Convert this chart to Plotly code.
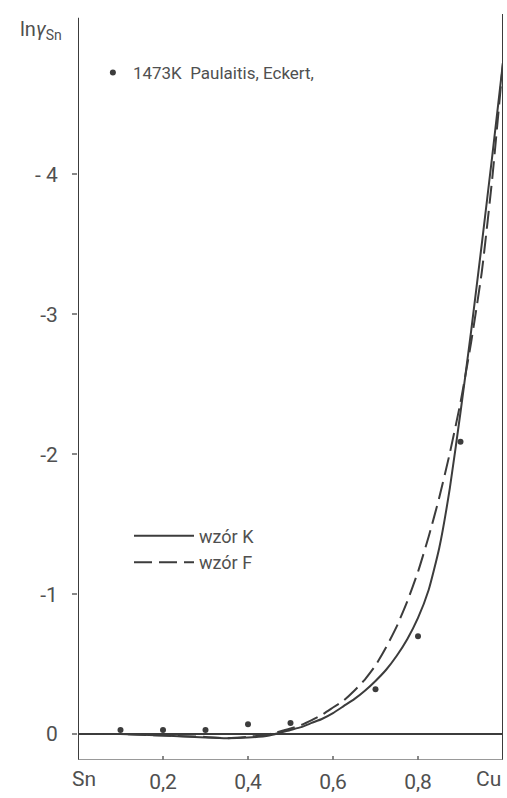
import plotly.graph_objects as go

# ---- data ----
x_K = [0.0, 0.1, 0.2, 0.3, 0.35, 0.4, 0.45, 0.5, 0.525, 0.55, 0.575, 0.6, 0.625, 0.65, 0.675, 0.7,
       0.725, 0.75, 0.775, 0.8, 0.825, 0.85, 0.875, 0.9, 0.925, 0.95, 0.975, 1.0]
y_K = [0.0, 0.0, 0.01, 0.025, 0.03, 0.025, 0.01, -0.03, -0.05, -0.08, -0.11, -0.15, -0.2, -0.25, -0.31, -0.38,
       -0.46, -0.56, -0.68, -0.83, -1.03, -1.33, -1.76, -2.3, -2.88, -3.5, -4.14, -4.8]

x_F = [0.0, 0.1, 0.2, 0.3, 0.35, 0.4, 0.45, 0.5, 0.525, 0.55, 0.575, 0.6, 0.625, 0.65, 0.675, 0.7,
       0.725, 0.75, 0.775, 0.8, 0.825, 0.85, 0.875, 0.9, 0.925, 0.95, 0.975, 1.0]
y_F = [0.0, 0.0, 0.01, 0.02, 0.03, 0.02, 0.0, -0.04, -0.065, -0.1, -0.14, -0.19, -0.24, -0.31, -0.39, -0.49,
       -0.62, -0.77, -0.95, -1.16, -1.41, -1.69, -2.01, -2.37, -2.8, -3.3, -3.98, -4.8]

x_pts = [0.1, 0.2, 0.3, 0.4, 0.5, 0.7, 0.8, 0.9]
y_pts = [-0.03, -0.03, -0.03, -0.07, -0.08, -0.32, -0.70, -2.09]

x_tickvals = [0.2, 0.4, 0.6, 0.8]
x_ticktext = ["0,2", "0,4", "0,6", "0,8"]
y_tickvals = [-4, -3, -2, -1, 0]
y_ticktext = ["- 4", "-3", "-2", "-1", "0"]

INK = "#3c3c3c"
TXT = "#505050"
FONT = "Roboto"

fig = go.Figure()
fig.add_trace(go.Scatter(x=x_K, y=y_K, mode="lines", name="wzór K",
                         line=dict(color=INK, width=2, shape="spline", smoothing=0.5),
                         legend="legend"))
fig.add_trace(go.Scatter(x=x_F, y=y_F, mode="lines", name="wzór F",
                         line=dict(color=INK, width=2, dash="18px,7px", shape="spline", smoothing=0.5),
                         legend="legend"))
fig.add_trace(go.Scatter(x=x_pts, y=y_pts, mode="markers", name="1473K  Paulaitis, Eckert,",
                         marker=dict(color=INK, size=6), legend="legend2"))

y_bottom = 0.185
y_top = -5.146

fig.update_layout(
    width=507, height=798,
    margin=dict(l=78, r=4, t=14, b=35),
    paper_bgcolor="white", plot_bgcolor="white",
    font=dict(family=FONT, color=TXT, size=19),
    xaxis=dict(range=[0, 1], tickvals=x_tickvals, ticktext=x_ticktext,
               showgrid=False, zeroline=False, showline=False,
               ticks="inside", ticklen=4, tickcolor="#888", tickwidth=1.5,
               ticklabelstandoff=7,
               tickfont=dict(size=21, color=TXT, family=FONT)),
    yaxis=dict(range=[y_bottom, y_top], tickvals=y_tickvals, ticktext=y_ticktext,
               showgrid=False, zeroline=True, zerolinecolor=INK, zerolinewidth=2,
               showline=False, ticks="outside", ticklen=5, tickcolor="#888", tickwidth=1.5,
               ticklabelstandoff=10,
               tickfont=dict(size=21, color=TXT, family=FONT)),
    legend=dict(x=0.12, y=0.325, xanchor="left", yanchor="top",
                bgcolor="rgba(0,0,0,0)", font=dict(size=18, color=TXT, family=FONT),
                itemwidth=60, tracegroupgap=0),
    legend2=dict(x=0.035, y=0.945, xanchor="left", yanchor="top",
                 bgcolor="rgba(0,0,0,0)", font=dict(size=17, color=TXT, family=FONT),
                 itemwidth=30),
    showlegend=True,
)

# frame lines: left, right, bottom (no top)
fig.add_shape(type="line", xref="x", yref="y", x0=0, x1=0, y0=y_bottom, y1=-5.12,
              line=dict(color=INK, width=2))
fig.add_shape(type="line", xref="x", yref="y", x0=1, x1=1, y0=y_bottom, y1=-5.18,
              line=dict(color=INK, width=2))
fig.add_shape(type="line", xref="x", yref="y", x0=0, x1=1, y0=y_bottom, y1=y_bottom,
              line=dict(color="#777", width=1.5))

# end labels and axis title
fig.add_annotation(x=0.014, y=-0.025, xref="x", yref="paper", text="Sn", showarrow=False,
                   xanchor="center", yanchor="middle", font=dict(size=21, color=TXT, family=FONT))
fig.add_annotation(x=0.965, y=-0.025, xref="x", yref="paper", text="Cu", showarrow=False,
                   xanchor="center", yanchor="middle", font=dict(size=21, color=TXT, family=FONT))
fig.add_annotation(x=-0.14, y=0.978, xref="paper", yref="paper",
                   text="ln<i>γ</i><sub>Sn</sub>", showarrow=False,
                   xanchor="left", yanchor="middle", font=dict(size=20, color=TXT, family=FONT))

fig.write_html("out.html")
